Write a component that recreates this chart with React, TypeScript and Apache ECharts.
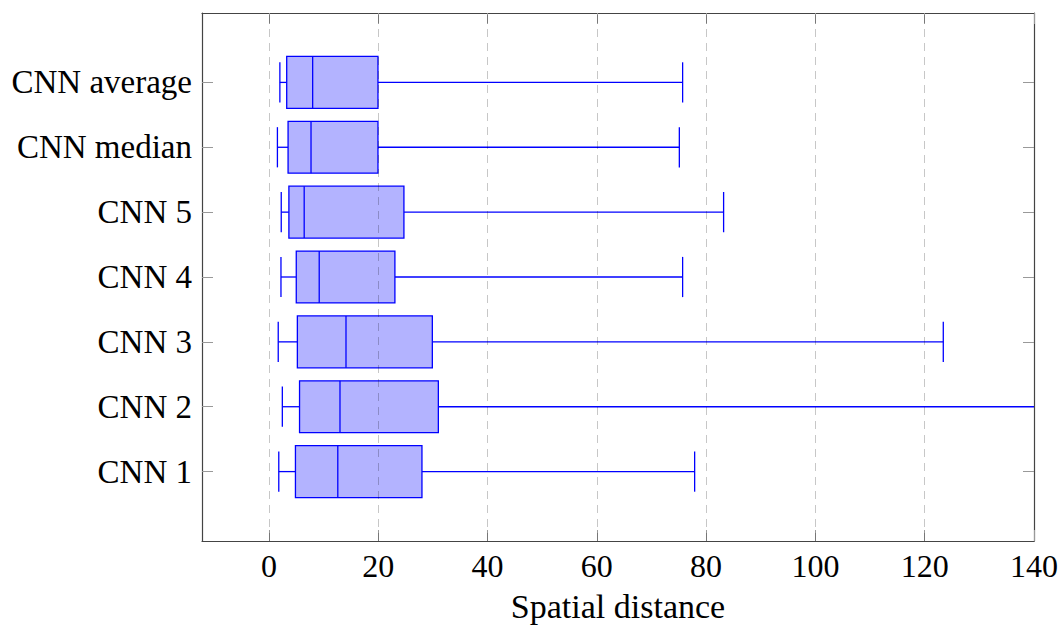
import { useEffect, useRef } from "react";
import * as echarts from "echarts";

const CATEGORIES = ["CNN 1", "CNN 2", "CNN 3", "CNN 4", "CNN 5", "CNN median", "CNN average"];
const LOWER_WHISKER = [1.8, 2.45, 1.7, 2.2, 2.25, 1.55, 2.0];
const Q1 = [4.85, 5.6, 5.2, 5.0, 3.65, 3.5, 3.25];
const MEDIAN = [12.6, 13.0, 14.1, 9.2, 6.45, 7.7, 8.0];
const Q3 = [28.0, 31.0, 29.9, 23.05, 24.7, 19.95, 19.95];
const UPPER_WHISKER = [77.9, 150, 123.4, 75.7, 83.2, 75.1, 75.7];
const X_TICKS = [0, 20, 40, 60, 80, 100, 120, 140];
const GRID_X = [0, 20, 40, 60, 80, 100, 120];
const Y_TICKS = [1, 2, 3, 4, 5, 6, 7];

const FONT = "'Liberation Serif', 'Times New Roman', serif";

export default function App() {
  const ref = useRef<HTMLDivElement>(null);
  useEffect(() => {
    document.body.style.margin = "0";
    const chart = echarts.init(ref.current!, null, { renderer: "svg" });
    const data = CATEGORIES.map((_, i) => [
      i + 1,
      LOWER_WHISKER[i],
      Q1[i],
      MEDIAN[i],
      Q3[i],
      UPPER_WHISKER[i],
    ]);
    const stroke = "#0000ff";
    const lw = 1.3;
    const BOX = 0.4;
    const CAP = 0.31;
    const axisCommon = {
      axisLine: { show: true, onZero: false, lineStyle: { color: "#444", width: 1.2 } },
      axisTick: { show: true, inside: true, length: 11, lineStyle: { color: "#999", width: 1 } },
      splitLine: { show: false },
    };
    chart.setOption({
      animation: false,
      grid: { left: 202, right: 30, top: 13, bottom: 86, containLabel: false },
      xAxis: [
        {
          type: "value",
          min: -12.25,
          max: 140,
          position: "bottom",
          ...axisCommon,
          axisTick: { ...axisCommon.axisTick, customValues: X_TICKS },
          axisLabel: {
            customValues: X_TICKS,
            color: "#000",
            fontFamily: FONT,
            fontSize: 32,
            margin: 9,
          },
          name: "Spatial distance",
          nameLocation: "middle",
          nameGap: 48,
          nameTextStyle: { color: "#000", fontFamily: FONT, fontSize: 34 },
        },
        {
          type: "value",
          min: -12.25,
          max: 140,
          position: "top",
          ...axisCommon,
          axisTick: { ...axisCommon.axisTick, customValues: X_TICKS },
          axisLabel: { show: false },
        },
      ],
      yAxis: [
        {
          type: "value",
          min: -0.07,
          max: 8.07,
          position: "left",
          ...axisCommon,
          axisTick: { ...axisCommon.axisTick, customValues: Y_TICKS },
          axisLabel: {
            customValues: Y_TICKS,
            formatter: (v: number) => CATEGORIES[Math.round(v) - 1] ?? "",
            color: "#000",
            fontFamily: FONT,
            fontSize: 33,
            margin: 10,
          },
        },
        {
          type: "value",
          min: -0.07,
          max: 8.07,
          position: "right",
          ...axisCommon,
          axisTick: { ...axisCommon.axisTick, customValues: Y_TICKS },
          axisLabel: { show: false },
        },
      ],
      series: [
        {
          type: "custom",
          xAxisIndex: 0,
          yAxisIndex: 0,
          clip: true,
          encode: { x: [1, 2, 3, 4, 5], y: 0 },
          data,
          renderItem: (params: any, api: any) => {
            const y = api.value(0);
            const lo = api.value(1);
            const q1 = api.value(2);
            const med = api.value(3);
            const q3 = api.value(4);
            const hi = api.value(5);
            const tl = api.coord([q1, y + BOX]);
            const br = api.coord([q3, y - BOX]);
            const mTop = api.coord([med, y + BOX]);
            const mBot = api.coord([med, y - BOX]);
            const c = api.coord([0, y]);
            const loP = api.coord([lo, y]);
            const hiP = api.coord([hi, y]);
            const capTop = api.coord([0, y + CAP])[1];
            const capBot = api.coord([0, y - CAP])[1];
            const ls = { stroke, lineWidth: lw, fill: "none" };
            return {
              type: "group",
              children: [
                {
                  type: "line",
                  shape: { x1: loP[0], y1: c[1], x2: tl[0], y2: c[1] },
                  style: ls,
                },
                {
                  type: "line",
                  shape: { x1: br[0], y1: c[1], x2: hiP[0], y2: c[1] },
                  style: ls,
                },
                {
                  type: "line",
                  shape: { x1: loP[0], y1: capTop, x2: loP[0], y2: capBot },
                  style: ls,
                },
                {
                  type: "line",
                  shape: { x1: hiP[0], y1: capTop, x2: hiP[0], y2: capBot },
                  style: ls,
                },
                {
                  type: "rect",
                  shape: { x: tl[0], y: tl[1], width: br[0] - tl[0], height: br[1] - tl[1] },
                  style: { fill: "#b3b3ff", stroke, lineWidth: lw },
                },
                {
                  type: "line",
                  shape: { x1: mTop[0], y1: mTop[1], x2: mBot[0], y2: mBot[1] },
                  style: ls,
                },
              ],
            };
          },
          markLine: {
            silent: true,
            symbol: "none",
            label: { show: false },
            lineStyle: { type: [8, 6], color: "rgba(0,0,0,0.22)", width: 1 },
            data: GRID_X.map((v) => ({ xAxis: v })),
          },
        },
      ],
    });
    return () => chart.dispose();
  }, []);
  return <div ref={ref} style={{ width: 1064, height: 628 }} />;
}
